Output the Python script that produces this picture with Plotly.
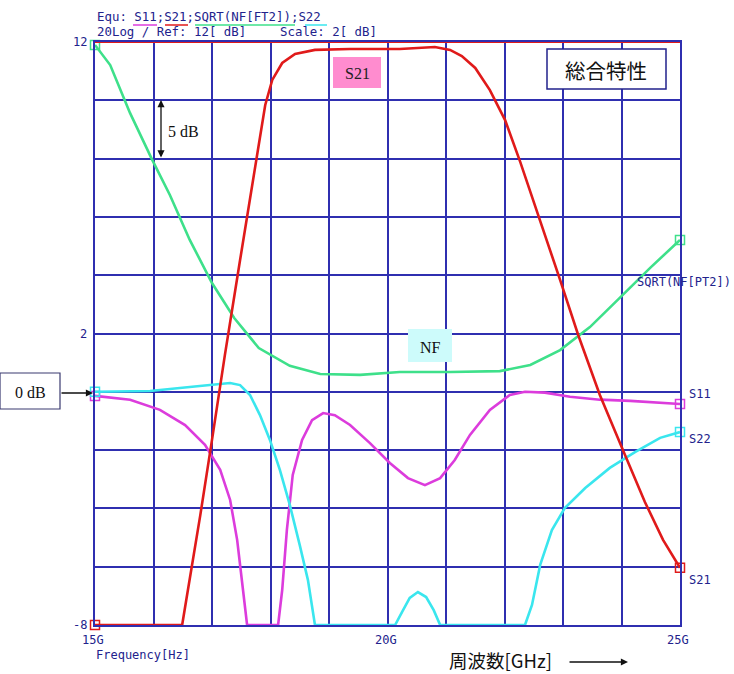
import plotly.graph_objects as go

# ---- series data: frequency in GHz, level in dB ----
s21_freq = [15.0, 16.49, 16.56, 16.66, 16.80, 17.0, 17.22, 17.48, 17.74, 17.91, 18.03, 18.20,
            18.42, 18.76, 19.36, 20.21, 20.81, 21.07, 21.27, 21.50, 21.75, 22.01, 22.27,
            22.61, 22.95, 23.26, 23.63, 24.06, 24.40, 24.71, 24.86, 25.0]
s21_db = [-8.0, -8.0, -7.14, -5.94, -4.23, -1.65, 1.26, 4.52, 7.78, 9.84, 10.70, 11.28,
          11.59, 11.73, 11.76, 11.76, 11.83, 11.73, 11.52, 11.11, 10.35, 9.32, 7.88,
          5.89, 3.84, 1.95, -0.11, -2.17, -3.78, -5.08, -5.60, -6.04]

nf_freq = [15.0, 15.26, 15.60, 15.97, 16.28, 16.62, 17.0, 17.38, 17.80, 18.33, 18.85,
           19.53, 20.21, 21.07, 21.92, 22.44, 22.95, 23.46, 23.97, 24.49, 25.0]
nf_db = [11.9, 11.21, 9.56, 7.99, 6.75, 5.21, 3.73, 2.53, 1.50, 0.89, 0.61,
         0.58, 0.68, 0.68, 0.71, 0.92, 1.43, 2.22, 3.22, 4.25, 5.21]

s22_freq = [15.0, 15.94, 16.79, 17.31, 17.48, 17.65, 17.82, 17.99, 18.16, 18.33, 18.50,
            18.64, 18.76, 20.13, 20.25, 20.38, 20.52, 20.66, 20.79, 20.90, 22.35, 22.47,
            22.61, 22.81, 23.03, 23.38, 23.80, 24.23, 24.66, 25.0]
s22_db = [0.0, 0.03, 0.20, 0.30, 0.23, -0.11, -0.80, -1.65, -2.68, -3.88, -5.26,
          -6.46, -8.0, -8.0, -7.55, -7.07, -6.87, -7.04, -7.49, -8.0, -8.0, -7.31,
          -5.94, -4.74, -3.99, -3.30, -2.61, -2.07, -1.58, -1.38]

s11_freq = [15.0, 15.60, 16.11, 16.54, 16.88, 17.14, 17.31, 17.43, 17.53, 17.60, 18.13,
            18.20, 18.28, 18.38, 18.54, 18.71, 18.90, 19.10, 19.36, 19.70, 20.04, 20.35,
            20.64, 20.90, 21.15, 21.41, 21.75, 22.09, 22.35, 22.69, 23.12, 23.63, 24.15,
            24.49, 25.0]
s11_db = [-0.14, -0.27, -0.62, -1.14, -1.82, -2.68, -3.71, -5.08, -6.80, -8.0, -8.0,
          -6.80, -4.74, -2.85, -1.65, -0.97, -0.73, -0.80, -1.14, -1.76, -2.44, -2.96,
          -3.20, -2.96, -2.34, -1.48, -0.62, -0.11, 0.0, -0.03, -0.17, -0.27, -0.31,
          -0.35, -0.42]

x_tick_labels = {15: "15G", 20: "20G", 25: "25G"}
y_tick_labels = {12: "12", 2: "2", -8: "-8"}

# ---- colours and fonts ----
GRID = "#2f2fb0"
TXT = "#22228c"
RED = "#e01a1a"
GREEN = "#3ee08a"
CYAN = "#3ae6ee"
MAGENTA = "#dc3cdc"
MONO = "DejaVu Sans Mono"
SERIF = "Liberation Serif"
CJK = "Noto Sans CJK JP"

W, H = 734, 674
L, R, T, B = 95, 54, 42, 49
PW, PH = W - L - R, H - T - B


def px(x):
    return (x - L) / PW


def py(y):
    return (H - B - y) / PH


fig = go.Figure()

series = [
    (s11_freq, s11_db, MAGENTA, "S11"),
    (s22_freq, s22_db, CYAN, "S22"),
    (nf_freq, nf_db, GREEN, "SQRT(NF[PT2])"),
    (s21_freq, s21_db, RED, "S21"),
]
for f, v, col, name in series:
    fig.add_trace(go.Scatter(x=f, y=v, mode="lines", name=name,
                             line=dict(color=col, width=2.6), hoverinfo="skip"))
    fig.add_trace(go.Scatter(x=[f[0], f[-1]], y=[v[0], v[-1]], mode="markers",
                             marker=dict(symbol="square-open", size=9, color=col,
                                         line=dict(color=col, width=1.5)),
                             hoverinfo="skip", cliponaxis=False))

fig.update_xaxes(range=[15, 25], dtick=1, tick0=15, showgrid=True, gridcolor=GRID,
                 gridwidth=1.5, showline=True, linecolor=GRID, linewidth=1.5,
                 mirror=True, showticklabels=False, ticks="", zeroline=False)
fig.update_yaxes(range=[-8, 12], dtick=2, tick0=-8, showgrid=True, gridcolor=GRID,
                 gridwidth=1.5, showline=True, linecolor=GRID, linewidth=1.5,
                 mirror=True, showticklabels=False, ticks="", zeroline=False)

shapes = []
# red reference line along the top edge
shapes.append(dict(type="line", xref="x", yref="y", x0=15, x1=25, y0=12, y1=12,
                   line=dict(color=RED, width=2)))
# coloured underlines in the equation header
for x0, x1, col in [(133, 157, MAGENTA), (165, 188, RED), (195, 295, GREEN), (305, 327, CYAN)]:
    shapes.append(dict(type="line", xref="paper", yref="paper", x0=px(x0), x1=px(x1),
                       y0=py(25), y1=py(25), line=dict(color=col, width=1.5)))
# label boxes
shapes.append(dict(type="rect", xref="paper", yref="paper", x0=px(547), x1=px(666),
                   y0=py(89), y1=py(49), fillcolor="white", line=dict(color=TXT, width=1.5)))
shapes.append(dict(type="rect", xref="paper", yref="paper", x0=px(0), x1=px(60),
                   y0=py(409), y1=py(373), fillcolor="white", line=dict(color="#3a3a70", width=1.2)))
shapes.append(dict(type="rect", xref="paper", yref="paper", x0=px(333), x1=px(381),
                   y0=py(88), y1=py(57), fillcolor="#ff8ccf", line=dict(width=0)))
shapes.append(dict(type="rect", xref="paper", yref="paper", x0=px(408), x1=px(452),
                   y0=py(362), y1=py(329), fillcolor="#cdfbfb", line=dict(width=0)))
fig.update_layout(shapes=shapes)

ann = []


def text(x, y, s, size=12, color=TXT, family=MONO, xanchor="left"):
    ann.append(dict(x=px(x), y=py(y), xref="paper", yref="paper", text=s, showarrow=False,
                    xanchor=xanchor, yanchor="middle", borderpad=0,
                    font=dict(size=size, color=color, family=family)))


text(96, 16, "Equ: S11;S21;SQRT(NF[FT2]);S22", size=12.4)
text(96, 32, "20Log / Ref: 12[ dB]", size=12.4)
text(279, 32, "Scale: 2[ dB]", size=12.4)
for val, lab in y_tick_labels.items():
    ypix = T + (12 - val) / 20 * PH
    text(88, ypix, lab, xanchor="right")
for val, lab in x_tick_labels.items():
    xpix = L + (val - 15) / 10 * PW
    text(xpix - 2, 640, lab, xanchor="center")
text(95, 655, "Frequency[Hz]")
text(448, 660, "周波数[GHz]", size=18.5, color="#111111", family=CJK)
text(606, 70, "総合特性", size=20.5, color="#111111", family=CJK, xanchor="center")
text(30, 392, "0 dB", size=16, color="#111111", family=SERIF, xanchor="center")
text(167, 131, "5 dB", size=16, color="#111111", family=SERIF)
text(357, 74, "S21", size=16, color="#222222", family=SERIF, xanchor="center")
text(430, 347, "NF", size=16, color="#111111", family=SERIF, xanchor="center")
text(636, 282, "SQRT(NF[PT2])")
text(688, 394, "S11")
text(688, 439, "S22")
text(688, 580, "S21")


def arrow(xh, yh, dx, dy, both=False):
    ann.append(dict(x=px(xh), y=py(yh), xref="paper", yref="paper", text="",
                    showarrow=True, ax=dx, ay=dy, axref="pixel", ayref="pixel",
                    arrowhead=2, arrowsize=1.1, arrowwidth=1.3, arrowcolor="#111111",
                    startarrowhead=2, startarrowsize=1.1,
                    arrowside="end+start" if both else "end"))


arrow(93, 393, -33, 0)
arrow(628, 662, -60, 0)
arrow(161, 100, 0, 59, both=True)

fig.update_layout(annotations=ann, width=W, height=H,
                  margin=dict(l=L, r=R, t=T, b=B, pad=0),
                  paper_bgcolor="white", plot_bgcolor="white", showlegend=False)

fig.write_html("out.html", config={"displayModeBar": False})
